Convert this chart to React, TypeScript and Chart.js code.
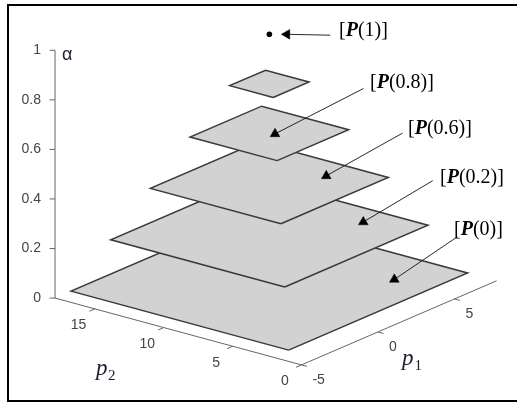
import React, { useEffect, useRef } from 'react';
import { Chart, registerables } from 'chart.js';

Chart.register(...registerables);

// ---------------- data ----------------
// alpha-cut levels of the fuzzy parameter set P(alpha) = [p1 range] x [p2 range]
const alphaLevels = [0, 0.2, 0.4, 0.6, 0.8, 1];
const p1Lower = [-3.95, -2.78, -1.61, -0.44, 0.73, 1.9];
const p1Upper = [7.75, 6.58, 5.41, 4.24, 3.07, 1.9];
const p2Lower = [2.1, 3.68, 5.26, 6.84, 8.42, 10.0];
const p2Upper = [17.9, 16.32, 14.74, 13.16, 11.58, 10.0];

// axes
const p1Limits = [-5, 7.75];
const p2Limits = [0, 17.9];
const alphaLimits = [0, 1];
const alphaTicks = [0, 0.2, 0.4, 0.6, 0.8, 1];
const alphaTickLabels = ['0', '0.2', '0.4', '0.6', '0.8', '1'];
const p1Ticks = [-5, 0, 5];
const p1TickLabels = ['-5', '0', '5'];
const p2Ticks = [0, 5, 10, 15];
const p2TickLabels = ['0', '5', '10', '15'];

// callouts "[P(x)]" and the point of the set each one points at
const calloutArgs = ['1', '0.8', '0.6', '0.2', '0'];
const calloutTipP1 = [1.9, 2.0, 4.0, 5.25, 5.3];
const calloutTipP2 = [10.0, 9.7, 8.2, 6.9, 4.7];
const calloutTipAlpha = [1, 0.6, 0.4, 0.2, 0];

// ---------------- layout / style (not data) ----------------
const W = 517;
const H = 403;
// oblique camera: screen = origin + p1*E1 + p2*E2 + alpha*EZ
const ORIGIN = [302.5, 370];
const E1 = [15.67, -6.8];
const E2 = [-14.1, -3.85];
const EZ = -255.5;

const calloutTextPos = [
  [339, 36],
  [370, 88],
  [408, 134],
  [440, 183],
  [454, 235],
];
const calloutLineStart = [
  [332, 30],
  [366, 85],
  [406, 131],
  [437, 180],
  [462, 238],
];
const calloutMarkerShift = [
  [18, 0],
  [0, 0],
  [0, 0],
  [0, 0],
  [0, 0],
];
const calloutMarkerRotation = [-90, 0, 0, 0, 0];

const FILL = '#d2d2d2';
const EDGE = '#3a3a3a';
const AXIS = '#666666';
const TICK_TEXT = '#444444';
const TITLE = '#1e1e2e';
const TICK_FONT = '14px "Liberation Sans", Arial, sans-serif';
const SERIF = '"Liberation Serif", "Times New Roman", serif';

function proj(p1: number, p2: number, a: number) {
  const d1 = p1 - p1Limits[0];
  const d2 = p2 - p2Limits[0];
  const dz = a - alphaLimits[0];
  return {
    x: ORIGIN[0] + E1[0] * d1 + E2[0] * d2,
    y: ORIGIN[1] + E1[1] * d1 + E2[1] * d2 + EZ * dz,
  };
}

function seg(a: any, b: any, color: string, width: number, order: number) {
  return {
    data: [a, b],
    showLine: true,
    borderColor: color,
    borderWidth: width,
    pointRadius: 0,
    pointHoverRadius: 0,
    fill: false,
    tension: 0,
    order,
  };
}

function buildDatasets() {
  const ds: any[] = [];
  const p1min = p1Limits[0];
  const p1max = p1Limits[1];
  const p2min = p2Limits[0];
  const p2max = p2Limits[1];

  // axis lines
  ds.push(seg(proj(p1min, p2max, alphaLimits[0]), proj(p1min, p2max, alphaLimits[1]), AXIS, 1, 50));
  ds.push(seg(proj(p1min, p2max, 0), proj(p1min, p2min, 0), AXIS, 1, 50));
  ds.push(seg(proj(p1min, p2min, 0), proj(p1max, p2min, 0), AXIS, 1, 50));
  // ticks
  alphaTicks.forEach((t) => {
    const b = proj(p1min, p2max, t);
    ds.push(seg(b, { x: b.x - 5.5, y: b.y }, AXIS, 1, 50));
  });
  p2Ticks.forEach((t) => {
    ds.push(seg(proj(p1min, t, 0), proj(p1min - 0.36, t, 0), AXIS, 1, 50));
  });
  p1Ticks.forEach((t) => {
    ds.push(seg(proj(t, p2min, 0), proj(t, p2min - 0.4, 0), AXIS, 1, 50));
  });

  // alpha-cut rectangles (lower levels drawn first => higher order value)
  alphaLevels.forEach((a, i) => {
    if (p1Lower[i] === p1Upper[i] && p2Lower[i] === p2Upper[i]) {
      ds.push({
        data: [proj(p1Lower[i], p2Lower[i], a)],
        showLine: false,
        pointRadius: 2.8,
        pointHoverRadius: 2.8,
        pointBackgroundColor: '#000',
        pointBorderColor: '#000',
        pointBorderWidth: 0,
        order: 5,
      });
      return;
    }
    const pts = [
      proj(p1Lower[i], p2Lower[i], a),
      proj(p1Upper[i], p2Lower[i], a),
      proj(p1Upper[i], p2Upper[i], a),
      proj(p1Lower[i], p2Upper[i], a),
      proj(p1Lower[i], p2Lower[i], a),
    ];
    ds.push({
      data: pts,
      showLine: true,
      fill: 'shape',
      backgroundColor: FILL,
      borderColor: EDGE,
      borderWidth: 1.5,
      borderJoinStyle: 'miter',
      pointRadius: 0,
      pointHoverRadius: 0,
      tension: 0,
      order: 40 - i,
    });
  });

  // callout arrows
  calloutArgs.forEach((_, i) => {
    const tip = proj(calloutTipP1[i], calloutTipP2[i], calloutTipAlpha[i]);
    const m = { x: tip.x + calloutMarkerShift[i][0], y: tip.y + calloutMarkerShift[i][1] };
    const s = { x: calloutLineStart[i][0], y: calloutLineStart[i][1] };
    ds.push(seg(s, m, '#111', 0.9, 1));
    ds.push({
      data: [m],
      showLine: false,
      pointStyle: 'triangle',
      pointRotation: calloutMarkerRotation[i],
      pointRadius: 5.6,
      pointHoverRadius: 5.6,
      pointBackgroundColor: '#000',
      pointBorderColor: '#000',
      pointBorderWidth: 0.5,
      order: 0,
    });
  });
  return ds;
}

const textPlugin = {
  id: 'fuzzyTexts',
  afterDraw(chart: any) {
    const ctx: CanvasRenderingContext2D = chart.ctx;
    const xs = chart.scales.x;
    const ys = chart.scales.y;
    const P = (pt: { x: number; y: number }) => ({
      x: xs.getPixelForValue(pt.x),
      y: ys.getPixelForValue(pt.y),
    });
    ctx.save();

    // tick labels
    ctx.fillStyle = TICK_TEXT;
    ctx.font = TICK_FONT;
    ctx.textBaseline = 'middle';
    ctx.textAlign = 'right';
    alphaTicks.forEach((t, i) => {
      const p = P(proj(p1Limits[0], p2Limits[1], t));
      ctx.fillText(alphaTickLabels[i], p.x - 14, p.y);
    });
    ctx.textAlign = 'center';
    p2Ticks.forEach((t, i) => {
      const p = P(proj(p1Limits[0], t, 0));
      ctx.fillText(p2TickLabels[i], p.x - 16.5, p.y + 16.5);
    });
    ctx.textAlign = 'left';
    p1Ticks.forEach((t, i) => {
      const p = P(proj(t, p2Limits[0], 0));
      ctx.fillText(p1TickLabels[i], p.x + 11, p.y + 14.8);
    });

    // axis titles
    ctx.textBaseline = 'alphabetic';
    ctx.fillStyle = TITLE;
    ctx.font = '18px "Liberation Sans", Arial, sans-serif';
    ctx.fillText('α', 62, 60);

    ctx.font = 'italic 23px ' + SERIF;
    ctx.fillText('p', 96, 375);
    ctx.font = '15px ' + SERIF;
    ctx.fillText('2', 108, 380);

    ctx.font = 'italic 23px ' + SERIF;
    ctx.fillText('p', 402, 365);
    ctx.font = '15px ' + SERIF;
    ctx.fillText('1', 414.5, 370);

    // callout labels  [P(x)]
    ctx.fillStyle = '#000';
    calloutArgs.forEach((arg, i) => {
      let x = calloutTextPos[i][0];
      const y = calloutTextPos[i][1];
      ctx.font = '20px ' + SERIF;
      ctx.fillText('[', x, y);
      x += ctx.measureText('[').width;
      ctx.font = 'italic bold 20px ' + SERIF;
      ctx.fillText('P', x, y);
      x += ctx.measureText('P').width;
      ctx.font = '20px ' + SERIF;
      ctx.fillText('(' + arg + ')]', x, y);
    });

    ctx.restore();
  },
};

export default function App() {
  const ref = useRef<HTMLCanvasElement>(null);

  useEffect(() => {
    if (!ref.current) return;
    const chart = new Chart(ref.current, {
      type: 'scatter',
      data: { datasets: buildDatasets() },
      options: {
        animation: false,
        responsive: false,
        maintainAspectRatio: false,
        devicePixelRatio: 1,
        events: [],
        layout: { padding: 0 },
        plugins: {
          legend: { display: false },
          tooltip: { enabled: false },
        },
        scales: {
          x: { type: 'linear', display: false, min: 0, max: W },
          y: { type: 'linear', display: false, min: 0, max: H, reverse: true },
        },
      } as any,
      plugins: [textPlugin as any],
    });
    return () => chart.destroy();
  }, []);

  return (
    <div style={{ position: 'absolute', left: 0, top: 0, width: W, height: H, background: '#fff', overflow: 'hidden' }}>
      <canvas
        ref={ref}
        width={W}
        height={H}
        style={{ position: 'absolute', left: 0, top: 0, width: W, height: H }}
      />
      <div
        style={{
          position: 'absolute',
          left: 7,
          top: 4,
          width: W - 7,
          height: H - 5,
          boxSizing: 'border-box',
          borderTop: '2px solid #000',
          borderLeft: '2px solid #000',
          borderBottom: '2px solid #000',
          pointerEvents: 'none',
        }}
      />
    </div>
  );
}
